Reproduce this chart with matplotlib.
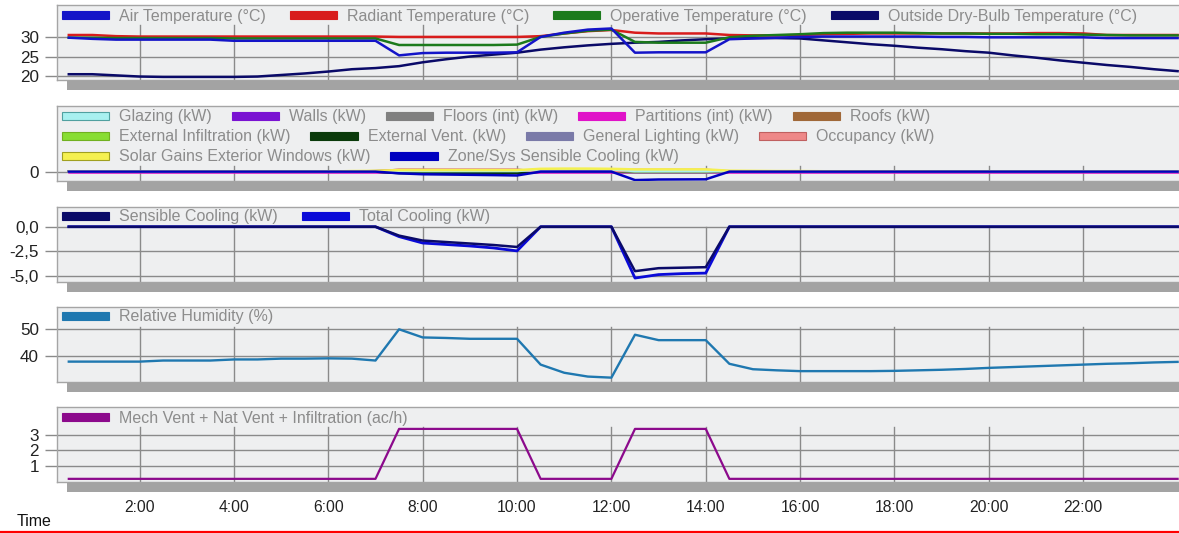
import numpy as np
import matplotlib
matplotlib.use("Agg")
import matplotlib.pyplot as plt
from matplotlib.patches import Patch, Rectangle
from matplotlib.legend import Legend
from matplotlib.lines import Line2D

plt.rcParams['font.family'] = ['Liberation Sans', 'DejaVu Sans']

# ---------------- data (half-hourly, 0:30 .. 24:00) ----------------
hours = [0.5, 1.0, 1.5, 2.0, 2.5, 3.0, 3.5, 4.0, 4.5, 5.0, 5.5, 6.0,
         6.5, 7.0, 7.5, 8.0, 8.5, 9.0, 9.5, 10.0, 10.5, 11.0, 11.5, 12.0,
         12.5, 13.0, 13.5, 14.0, 14.5, 15.0, 15.5, 16.0, 16.5, 17.0, 17.5, 18.0,
         18.5, 19.0, 19.5, 20.0, 20.5, 21.0, 21.5, 22.0, 22.5, 23.0, 23.5, 24.0]

x_ticks = [2, 4, 6, 8, 10, 12, 14, 16, 18, 20, 22]
x_tick_labels = ["2:00", "4:00", "6:00", "8:00", "10:00", "12:00", "14:00",
                 "16:00", "18:00", "20:00", "22:00"]

# Panel 1 - temperatures (°C)
air_temp = [29.9, 29.6, 29.4, 29.4, 29.4, 29.4, 29.4, 29.1, 29.1, 29.1, 29.1, 29.1,
            29.1, 29.1, 25.3, 25.9, 26.0, 26.0, 26.0, 26.1, 30.1, 31.2, 32.0, 32.3,
            26.0, 26.1, 26.1, 26.1, 29.5, 29.7, 29.9, 30.1, 30.2, 30.2, 30.2, 30.2,
            30.2, 30.1, 30.1, 30.0, 30.0, 30.0, 30.0, 30.0, 29.8, 29.8, 29.8, 29.8]
radiant_temp = [30.6, 30.6, 30.3, 30.2, 30.2, 30.2, 30.2, 30.2, 30.2, 30.2, 30.2, 30.2,
                30.2, 30.2, 30.1, 30.1, 30.1, 30.1, 30.1, 30.1, 30.3, 31.0, 31.6, 31.9,
                31.2, 31.0, 31.0, 31.0, 30.6, 30.5, 30.5, 30.6, 30.8, 30.9, 31.0, 31.0,
                31.0, 31.0, 31.0, 31.0, 31.0, 31.1, 31.1, 31.0, 30.6, 30.6, 30.6, 30.6]
operative_temp = [29.9, 29.9, 29.8, 29.8, 29.8, 29.8, 29.8, 29.7, 29.7, 29.7, 29.7, 29.7,
                  29.7, 29.7, 28.0, 28.0, 28.0, 28.0, 28.0, 28.1, 30.1, 31.0, 31.7, 32.0,
                  28.8, 28.6, 28.6, 28.6, 30.0, 30.4, 30.6, 30.8, 31.1, 31.2, 31.2, 31.2,
                  31.1, 31.0, 31.0, 30.9, 30.9, 30.8, 30.8, 30.7, 30.6, 30.5, 30.5, 30.5]
outside_temp = [20.4, 20.4, 20.1, 19.8, 19.7, 19.7, 19.7, 19.7, 19.8, 20.2, 20.6, 21.1,
                21.7, 22.0, 22.5, 23.5, 24.3, 25.0, 25.5, 26.0, 26.8, 27.4, 27.9, 28.3,
                28.6, 28.8, 29.2, 29.5, 29.7, 29.8, 29.8, 29.7, 29.2, 28.7, 28.2, 27.8,
                27.3, 26.9, 26.4, 26.0, 25.3, 24.7, 24.0, 23.4, 22.8, 22.3, 21.7, 21.2]

# Panel 2 - heat balance (kW)
glazing = [0.0] * 13 + [0.2, 0.3, 0.3, 0.3, 0.3, 0.3, 0.3, 1.2, 1.3, 1.3, 1.2,
                         0.3, 0.3, 0.3, 0.3, 0.2, 0.2, 0.1, 0.1, 0.1, 0.1, 0.0] + [0.0] * 13
walls = [0.0] * 14 + [0.1] * 20 + [0.0] * 14
floors = [0.0] * 14 + [-0.5] * 6 + [0.0] * 4 + [-0.5] * 4 + [0.0] * 20
partitions = [0.0] * 48
roofs = [0.0] * 13 + [0.3, 0.9, 0.9, 0.9, 0.9, 0.9, 0.9, 0.2, 0.2, 0.2, 0.2,
                       0.5, 0.5, 0.5, 0.5, 0.2, 0.2, 0.1, 0.0] + [0.0] * 16
ext_infiltration = [0.0] * 14 + [0.1] * 16 + [0.0] * 18
ext_vent = [0.0] * 14 + [-0.8] * 6 + [0.0] * 4 + [0.5] * 4 + [0.0] * 20
lighting = [0.0] * 14 + [0.3] * 6 + [0.0] * 4 + [0.3] * 4 + [0.0] * 20
occupancy = [0.0] * 14 + [1.0] * 6 + [0.0] * 4 + [1.0] * 4 + [0.0] * 20
solar_gains = [0.0] * 12 + [0.3, 0.4, 0.8, 0.8, 0.8, 0.8, 0.8, 0.8, 1.5, 1.6, 1.6, 1.5,
                            1.2, 1.2, 1.2, 1.2, 0.5, 0.4, 0.3, 0.3, 0.2, 0.2, 0.1, 0.1,
                            0.1, 0.0] + [0.0] * 10

# Panel 3 - cooling (kW)
sensible_cooling = [0.0] * 14 + [-0.9, -1.4, -1.55, -1.7, -1.85, -2.05,
                                 0.0, 0.0, 0.0, 0.0,
                                 -4.5, -4.2, -4.15, -4.1] + [0.0] * 20
total_cooling = [0.0] * 14 + [-1.0, -1.65, -1.8, -1.95, -2.15, -2.45,
                              0.0, 0.0, 0.0, 0.0,
                              -5.2, -4.85, -4.75, -4.7] + [0.0] * 20
zone_sys_cooling = sensible_cooling

# Panel 4 - relative humidity (%)
rel_humidity = [38.1, 38.1, 38.1, 38.1, 38.5, 38.5, 38.5, 38.9, 38.9, 39.2, 39.2, 39.3,
                39.2, 38.5, 50.0, 47.0, 46.8, 46.5, 46.5, 46.5, 37.0, 34.0, 32.6, 32.2,
                48.0, 46.0, 46.0, 46.0, 37.3, 35.3, 34.9, 34.6, 34.6, 34.6, 34.6, 34.7,
                34.9, 35.1, 35.4, 35.8, 36.1, 36.4, 36.7, 37.0, 37.3, 37.5, 37.8, 38.0]

# Panel 5 - air changes (ac/h)
air_changes = [0.2] * 14 + [3.37] * 6 + [0.2] * 4 + [3.37] * 4 + [0.2] * 20

# ---------------- layout ----------------
W, H = 1179, 533
fig = plt.figure(figsize=(W / 100, H / 100), dpi=100)
fig.patch.set_facecolor("white")

LEFT_PX = 57
panel_tops = [5, 106, 207, 307, 407]
PANEL_H = 75
legend_rows = [1, 3, 1, 1, 1]

ylims = [(18.9, 38.4), (-5.0, 35.0), (-5.6, 2.0), (30.6, 58.2), (0.0, 4.76)]
yticks = [[20, 25, 30], [0], [-5.0, -2.5, 0.0], [40, 50], [1, 2, 3]]
ytick_labels = [["20", "25", "30"], ["0"], ["-5,0", "-2,5", "0,0"], ["40", "50"], ["1", "2", "3"]]

BG = "#eeeff0"
GRID = "#8a8a8a"
LEG_TXT = "#8c8c8c"

axes = []
for i, top in enumerate(panel_tops):
    ax = fig.add_axes([LEFT_PX / W, 1 - (top + PANEL_H) / H, 1 - LEFT_PX / W, PANEL_H / H])
    ax.set_facecolor(BG)
    ax.set_xlim(0.25, 24.03)
    ax.set_ylim(*ylims[i])
    for s in ["top", "left", "bottom"]:
        ax.spines[s].set_color("#a5a5a5")
        ax.spines[s].set_linewidth(1.0)
    ax.spines["right"].set_visible(False)
    ax.set_yticks(yticks[i])
    ax.set_yticklabels(ytick_labels[i])
    ax.tick_params(axis="y", length=9, width=1, color=GRID, pad=4,
                   labelsize=12.3, labelcolor="#222222")
    ax.yaxis.grid(True, color=GRID, linewidth=1)
    ax.set_axisbelow(True)
    ax.set_xticks(x_ticks)
    ax.tick_params(axis="x", length=0)
    if i == 4:
        ax.set_xticklabels(x_tick_labels)
        ax.tick_params(axis="x", labelsize=11.3, labelcolor="#222222", pad=13)
    else:
        ax.set_xticklabels([])
    vmax = 1 - 20 * legend_rows[i] / PANEL_H
    for xt in x_ticks:
        ax.axvline(xt, ymin=0, ymax=vmax, color=GRID, linewidth=1, zorder=0.5)
    # drop shadow under panel
    fig.add_artist(Rectangle((67 / W, 1 - (top + PANEL_H + 10) / H), (W - 67) / W, 10 / H,
                             transform=fig.transFigure, facecolor="#a3a3a3",
                             edgecolor="none", zorder=0))
    axes.append(ax)


def add_legend_row(ax, items, y_px, colspace=1.5):
    handles = []
    labels = []
    for lab, fc, ec in items:
        handles.append(Patch(facecolor=fc, edgecolor=ec, linewidth=0.8))
        labels.append(lab)
    leg = Legend(ax, handles, labels, loc="center left",
                 bbox_to_anchor=(62 / W, 1 - y_px / H), bbox_transform=fig.transFigure,
                 ncols=len(handles), frameon=False, borderpad=0, borderaxespad=0,
                 handlelength=2.95, handleheight=0.37, handletextpad=0.62,
                 columnspacing=colspace, fontsize=11.5, labelcolor=LEG_TXT)
    ax.add_artist(leg)


# Panel 1
c_air, c_rad, c_op, c_out = "#1414c8", "#d81c1c", "#1c7a1c", "#0a0a68"
ax = axes[0]
ax.plot(hours, outside_temp, color=c_out, lw=1.8, zorder=3)
ax.plot(hours, radiant_temp, color=c_rad, lw=1.8, zorder=3)
ax.plot(hours, operative_temp, color=c_op, lw=1.8, zorder=3)
ax.plot(hours, air_temp, color=c_air, lw=1.8, zorder=3)
add_legend_row(ax, [("Air Temperature (°C)", c_air, c_air),
                    ("Radiant Temperature (°C)", c_rad, c_rad),
                    ("Operative Temperature (°C)", c_op, c_op),
                    ("Outside Dry-Bulb Temperature (°C)", c_out, c_out)], 16)

# Panel 2
cols2 = {
    "glazing": ("#a8f0f0", "#50a0a0"), "walls": ("#7a12d2", "#7a12d2"),
    "floors": ("#808080", "#808080"), "partitions": ("#e012c8", "#e012c8"),
    "roofs": ("#a06838", "#a06838"), "infil": ("#88dd33", "#70b020"),
    "vent": ("#0a3a0a", "#0a3a0a"), "light": ("#7a7aa8", "#7a7aa8"),
    "occ": ("#ee8888", "#c06060"), "solar": ("#f5f050", "#a0a020"),
    "zone": ("#0000c0", "#0000c0"),
}
ax = axes[1]
for series, key in [(partitions, "partitions"), (walls, "walls"), (floors, "floors"),
                    (ext_infiltration, "infil"), (lighting, "light"), (ext_vent, "vent"),
                    (roofs, "roofs"), (occupancy, "occ"), (glazing, "glazing"),
                    (solar_gains, "solar"), (zone_sys_cooling, "zone")]:
    ax.plot(hours, series, color=cols2[key][0], lw=1.8, zorder=3)
add_legend_row(ax, [("Glazing (kW)",) + cols2["glazing"],
                    ("Walls (kW)",) + cols2["walls"],
                    ("Floors (int) (kW)",) + cols2["floors"],
                    ("Partitions (int) (kW)",) + cols2["partitions"],
                    ("Roofs (kW)",) + cols2["roofs"]], 117, 1.25)
add_legend_row(ax, [("External Infiltration (kW)",) + cols2["infil"],
                    ("External Vent. (kW)",) + cols2["vent"],
                    ("General Lighting (kW)",) + cols2["light"],
                    ("Occupancy (kW)",) + cols2["occ"]], 137, 1.25)
add_legend_row(ax, [("Solar Gains Exterior Windows (kW)",) + cols2["solar"],
                    ("Zone/Sys Sensible Cooling (kW)",) + cols2["zone"]], 157, 1.25)

# Panel 3
c_sens, c_tot = "#0a0a68", "#0a0ad8"
ax = axes[2]
ax.plot(hours, total_cooling, color=c_tot, lw=2.0, zorder=3)
ax.plot(hours, sensible_cooling, color=c_sens, lw=1.8, zorder=3)
add_legend_row(ax, [("Sensible Cooling (kW)", c_sens, c_sens),
                    ("Total Cooling (kW)", c_tot, c_tot)], 217)

# Panel 4
c_rh = "#1f78b0"
ax = axes[3]
ax.plot(hours, rel_humidity, color=c_rh, lw=1.7, zorder=3)
add_legend_row(ax, [("Relative Humidity (%)", c_rh, c_rh)], 317)

# Panel 5
c_ach = "#8c0a8c"
ax = axes[4]
ax.plot(hours, air_changes, color=c_ach, lw=1.6, zorder=3)
add_legend_row(ax, [("Mech Vent + Nat Vent + Infiltration (ac/h)", c_ach, c_ach)], 418)

# Axis title and bottom red rule
fig.text(17 / W, 1 - 521 / H, "Time", fontsize=11.5, color="#111111", va="center", ha="left")
fig.add_artist(Line2D([0, 1], [1 - 531.5 / H, 1 - 531.5 / H], transform=fig.transFigure,
                      color="#ff0000", linewidth=1.6))

fig.savefig("out.png", dpi=100, facecolor="white")
